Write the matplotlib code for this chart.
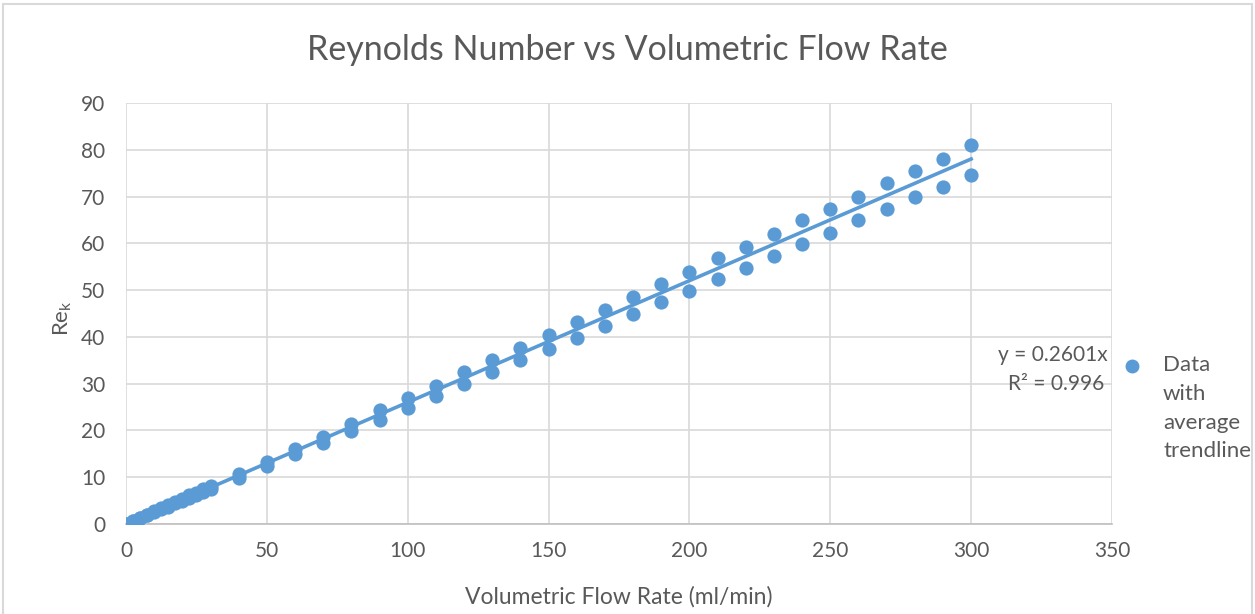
import matplotlib.pyplot as plt
from matplotlib.lines import Line2D
from matplotlib.patches import Rectangle
import numpy as np

plt.rcParams['font.family'] = ['Lato', 'DejaVu Sans']

# flow rate (ml/min) and the two Reynolds number readings taken at each rate
flow_rate = [0, 2.5, 5, 7.5, 10, 12.5, 15, 17.5, 20, 22.5, 25, 27.5, 30,
             40, 50, 60, 70, 80, 90, 100, 110, 120, 130, 140, 150,
             160, 170, 180, 190, 200, 210, 220, 230, 240, 250,
             260, 270, 280, 290, 300]
re_high = [0, 0.7, 1.3, 2.0, 2.7, 3.4, 4.0, 4.7, 5.4, 6.1, 6.7, 7.4, 8.1,
           10.6, 13.2, 16.1, 18.7, 21.3, 24.3, 26.9, 29.6, 32.4, 35.0, 37.6, 40.5,
           43.1, 45.7, 48.6, 51.2, 53.8, 56.8, 59.3, 61.9, 64.9, 67.4,
           70.0, 72.9, 75.5, 78.1, 81.0]
re_low = [0, 0.6, 1.2, 1.9, 2.5, 3.1, 3.7, 4.4, 5.0, 5.6, 6.2, 6.8, 7.4,
          9.8, 12.5, 15.0, 17.4, 19.9, 22.3, 24.8, 27.4, 29.9, 32.5, 35.0, 37.5,
          39.8, 42.4, 44.9, 47.4, 49.9, 52.4, 54.7, 57.2, 59.8, 62.3,
          64.9, 67.4, 70.0, 72.1, 74.7]

slope = 0.2601
r_squared = 0.996

x_ticks = [0, 50, 100, 150, 200, 250, 300, 350]
y_ticks = [0, 10, 20, 30, 40, 50, 60, 70, 80, 90]

blue = '#5B9BD5'
text_grey = '#595959'
grid_grey = '#D9D9D9'

fig = plt.figure(figsize=(12.55, 6.14), dpi=100)
ax = fig.add_axes([126 / 1255, 1 - 524 / 614, (1112 - 126) / 1255, (524 - 103) / 614])

x_all = flow_rate + flow_rate
y_all = re_high + re_low
ax.scatter(x_all, y_all, s=105, color=blue, zorder=3, linewidths=0)

# trendline through the origin
fit_x = np.array([0, max(flow_rate)])
ax.plot(fit_x, slope * fit_x, color=blue, lw=2.6, zorder=4)

ax.set_xlim(0, 350)
ax.set_ylim(0, 90)
ax.set_xticks(x_ticks)
ax.set_yticks(y_ticks)
ax.grid(True, color=grid_grey, lw=1.2)
ax.set_axisbelow(True)
for side in ['top', 'right', 'left']:
    ax.spines[side].set_visible(False)
ax.spines['bottom'].set_color('#BFBFBF')
ax.spines['bottom'].set_linewidth(1.2)
ax.tick_params(length=0, labelsize=15, colors=text_grey, pad=12)
ax.tick_params(axis='y', pad=15)

ax.set_xlabel('Volumetric Flow Rate (ml/min)', fontsize=16.5, color=text_grey)
ax.set_ylabel('Re$_\\mathregular{k}$', fontsize=16, color=text_grey)
ax.xaxis.set_label_coords((619 - 126) / 986, (524 - 586) / 421)
ax.yaxis.set_label_coords((74 - 126) / 986, 0.49)

fig.text(0.5, 1 - 50 / 614, 'Reynolds Number vs Volumetric Flow Rate',
         ha='center', va='center', fontsize=24.5, color=text_grey)

# trendline equation
ax.text(1108 / 1255, 1 - 355 / 614, f'y = {slope}x', transform=fig.transFigure,
        ha='right', va='center', fontsize=15, color=text_grey)
ax.text(1104 / 1255, 1 - 384 / 614, f'R² = {r_squared}', transform=fig.transFigure,
        ha='right', va='center', fontsize=15, color=text_grey)

# legend entry
fig.add_artist(Line2D([1132 / 1255], [1 - 366 / 614], marker='o', markersize=9,
                      color=blue, linestyle='none'))
for i, word in enumerate(['Data', 'with', 'average', 'trendline']):
    fig.text(1163 / 1255, 1 - (365 + 28.8 * i) / 614, word,
             ha='left', va='center', fontsize=16, color=text_grey)

# chart border
fig.add_artist(Rectangle((3 / 1255, -0.01), 1249 / 1255, 1 - 4 / 614 + 0.01,
                         transform=fig.transFigure, fill=False,
                         edgecolor='#D9D9D9', lw=1.5))

fig.savefig('out.png', dpi=100)
